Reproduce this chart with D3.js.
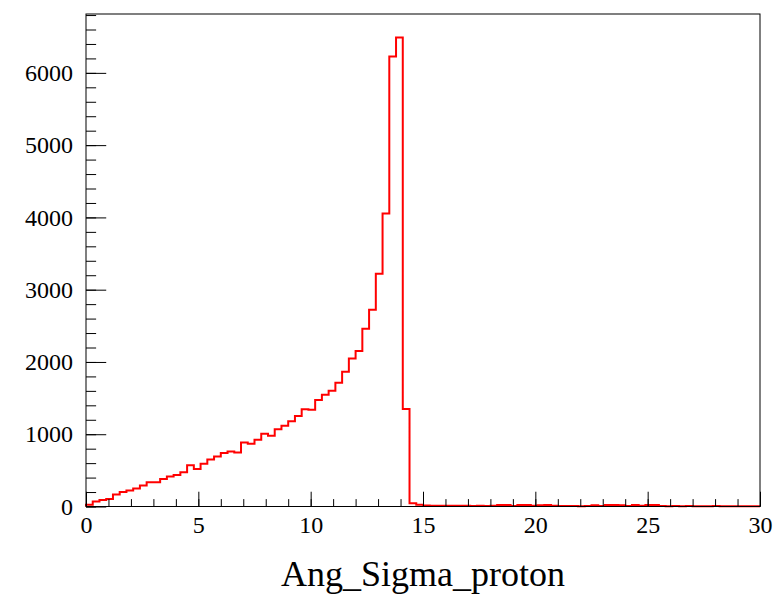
<!DOCTYPE html>
<html>
<head>
<meta charset="utf-8">
<script src="https://cdn.jsdelivr.net/npm/d3@7"></script>
<style>
  body { margin: 0; background: #fff; }
  svg { display: block; }
</style>
</head>
<body>
<div id="chart"></div>
<script>
	// histogram Ang_Sigma_proton, 100 bins from 0 to 30
	var binLow = 0, binHigh = 30, nBins = 100;
	var xTicks = [0, 5, 10, 15, 20, 25, 30];
	var yTicks = [0, 1000, 2000, 3000, 4000, 5000, 6000];
	var axisTitle = 'Ang_Sigma_proton';

	// counts, bin by bin
	var counts = [
		25, 70, 90, 105, 165, 200, 220, 250, 290, 335,
		335, 380, 415, 435, 475, 570, 520, 590, 650, 693,
		740, 760, 748, 886, 868, 923, 1005, 978, 1070, 1118,
		1178, 1253, 1345, 1338, 1474, 1547, 1602, 1713, 1864, 2048,
		2153, 2461, 2723, 3220, 4055, 6225, 6490, 1350, 45, 25,
		15, 12, 10, 12, 10, 12, 10, 8, 10, 8,
		10, 20, 22, 8, 20, 22, 12, 18, 22, 10,
		8, 6, 6, 5, 6, 18, 8, 20, 22, 18,
		8, 20, 10, 22, 20, 6, 5, 6, 5, 6,
		5, 4, 5, 6, 5, 4, 5, 4, 5, 4
	];

	var W = 779, H = 596;
	var margin = {top: 14, right: 19, bottom: 89.5, left: 86};
	var fw = W - margin.left - margin.right, fh = H - margin.top - margin.bottom;
	var binW = (binHigh - binLow) / nBins;

	const svg = d3.select('#chart').append('svg').attr('width', W).attr('height', H);

	var x = d3.scaleLinear().domain([binLow, binHigh]).range([margin.left, W - margin.right]);
	var y = d3.scaleLinear().domain([0, d3.max(counts) * 1.05]).range([H - margin.bottom, margin.top]);

	// step outline
	var pts = [[binLow, 0]];
	counts.forEach((c, i) => {
		pts.push([binLow + i * binW, c]);
		pts.push([binLow + (i + 1) * binW, c]);
	});

	svg.append('path')
		.datum(pts)
		.attr('fill', 'none')
		.attr('stroke', '#ff0000')
		.attr('stroke-width', 2)
		.attr('stroke-linejoin', 'miter')
		.attr('d', d3.line().x(d => x(d[0])).y(d => y(d[1])));

	var font = '"Liberation Serif", "Times New Roman", serif';
	var xLen = 0.03 * fh, yLen = 0.03 * fw;

	// minor ticks
	svg.append('g')
		.attr('transform', `translate(0,${H - margin.bottom})`)
		.call(d3.axisBottom(x).tickValues(d3.range(0, 31, 1)).tickSize(-xLen / 2).tickFormat(''))
		.call(g => g.select('.domain').remove());
	svg.append('g')
		.attr('transform', `translate(${margin.left},0)`)
		.call(d3.axisLeft(y).tickValues(d3.range(0, 6801, 200)).tickSize(-yLen / 2).tickFormat(''))
		.call(g => g.select('.domain').remove());

	// major ticks + labels
	svg.append('g')
		.attr('transform', `translate(0,${H - margin.bottom})`)
		.call(d3.axisBottom(x).tickValues(xTicks).tickSize(-xLen).tickPadding(9).tickFormat(d3.format('d')))
		.call(g => g.select('.domain').remove())
		.selectAll('text').attr('font-family', font).attr('font-size', '24px').attr('fill', '#000');
	svg.append('g')
		.attr('transform', `translate(${margin.left},0)`)
		.call(d3.axisLeft(y).tickValues(yTicks).tickSize(-yLen).tickPadding(13).tickFormat(d3.format('d')))
		.call(g => g.select('.domain').remove())
		.selectAll('text').attr('font-family', font).attr('font-size', '24px').attr('fill', '#000');

	svg.selectAll('.tick line').attr('stroke', '#000');

	// frame
	svg.append('rect')
		.attr('x', margin.left).attr('y', margin.top)
		.attr('width', fw).attr('height', fh)
		.attr('fill', 'none').attr('stroke', '#000').attr('stroke-width', 1);

	svg.append('text')
		.attr('x', margin.left + fw / 2)
		.attr('y', 586)
		.attr('text-anchor', 'middle')
		.attr('font-family', font)
		.attr('font-size', '36px')
		.text(axisTitle);
</script>
</body>
</html>
